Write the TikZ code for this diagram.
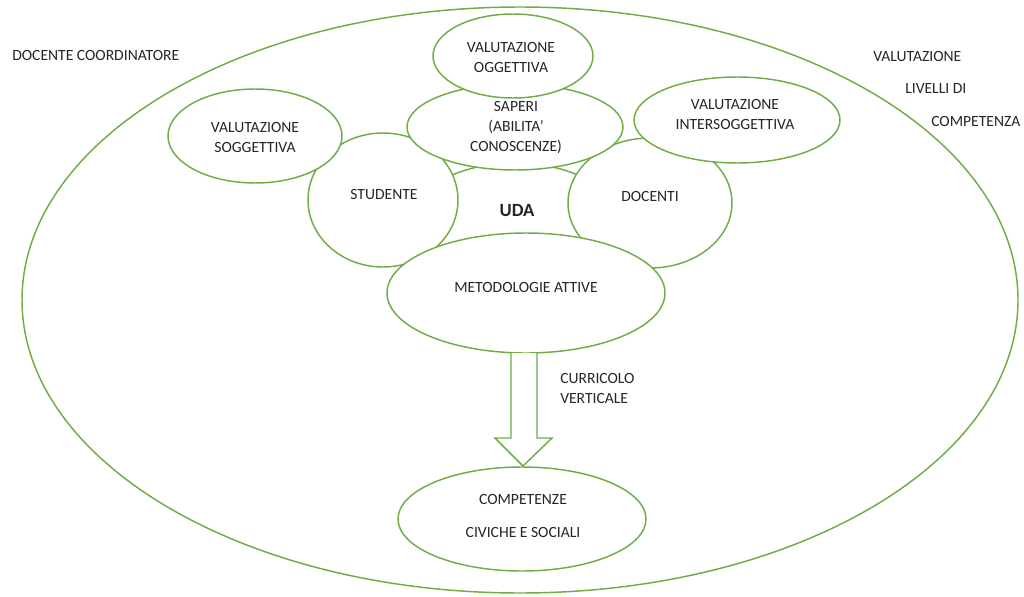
\documentclass[tikz,border=0pt]{standalone}
\usepackage{fontspec}
\setmainfont{Carlito}
\usetikzlibrary{shapes.geometric}
\definecolor{ogreen}{RGB}{112,173,71}
\definecolor{txtc}{RGB}{38,38,38}
\begin{document}
\begin{tikzpicture}[x=0.75pt,y=-0.75pt,
  ell/.style={ellipse,draw=ogreen,line width=1.1pt,fill=white,inner sep=0pt},
  txt/.style={text=txtc,font=\fontsize{11.7}{15}\selectfont,align=center,inner sep=0pt},
  ltxt/.style={txt,anchor=west,align=left}]
\useasboundingbox (0,0) rectangle (1024,596);
% outer ellipse
\node[ell,minimum width=996*0.75pt,minimum height=586*0.75pt] (outer) at (520,300) {};
% UDA ellipse (mostly hidden)
\node[ell,minimum width=204*0.75pt,minimum height=114*0.75pt] (uda) at (515,220) {};
\node[ell,minimum width=150*0.75pt,minimum height=134*0.75pt] (stud) at (383,200) {};
\node[ell,minimum width=164*0.75pt,minimum height=130*0.75pt] (doc) at (650,203) {};
\node[ell,minimum width=216*0.75pt,minimum height=86*0.75pt] (sap) at (515,127) {};
\node[ell,minimum width=278*0.75pt,minimum height=120*0.75pt] (met) at (526,293) {};
\node[ell,minimum width=160*0.75pt,minimum height=84*0.75pt] (ogg) at (513,56) {};
\node[ell,minimum width=174*0.75pt,minimum height=94*0.75pt] (sog) at (255,136) {};
\node[ell,minimum width=206*0.75pt,minimum height=86*0.75pt] (inter) at (737,120) {};
\node[ell,minimum width=248*0.75pt,minimum height=104*0.75pt] (comp) at (522,519) {};
% arrow
\draw[draw=ogreen,line width=1.1pt,fill=white,line join=miter]
  (511,353) -- (511,438) -- (495,438) -- (523,466) -- (552,438) -- (537,438) -- (537,353);
% texts
\node[txt] (togg) at (511,57) {VALUTAZIONE\\OGGETTIVA};
\node[txt] (tsap) at (516,128) {SAPERI\\(ABILITA’\\CONOSCENZE)};
\node[txt] (tinter) at (735,114) {VALUTAZIONE\\INTERSOGGETTIVA};
\node[txt] (tsog) at (255,137) {VALUTAZIONE\\SOGGETTIVA};
\node[txt] (tstud) at (384,194) {STUDENTE};
\node[txt,font=\fontsize{14}{16}\bfseries] (tuda) at (517,211) {UDA};
\node[txt] (tdoc) at (650,196) {DOCENTI};
\node[txt] (tmet) at (526,287) {METODOLOGIE ATTIVE};
\node[ltxt] (tcurr) at (560,388) {CURRICOLO\\VERTICALE};
\node[txt] (tcomp1) at (523,499) {COMPETENZE};
\node[txt] (tcomp2) at (523,532) {CIVICHE E SOCIALI};
\node[ltxt] (tcoord) at (12,55) {DOCENTE COORDINATORE};
\node[ltxt] (tval) at (873,56) {VALUTAZIONE};
\node[ltxt] (tliv) at (905,88) {LIVELLI DI};
\node[ltxt] (tcomp) at (931,121) {COMPETENZA};
\end{tikzpicture}
\end{document}
